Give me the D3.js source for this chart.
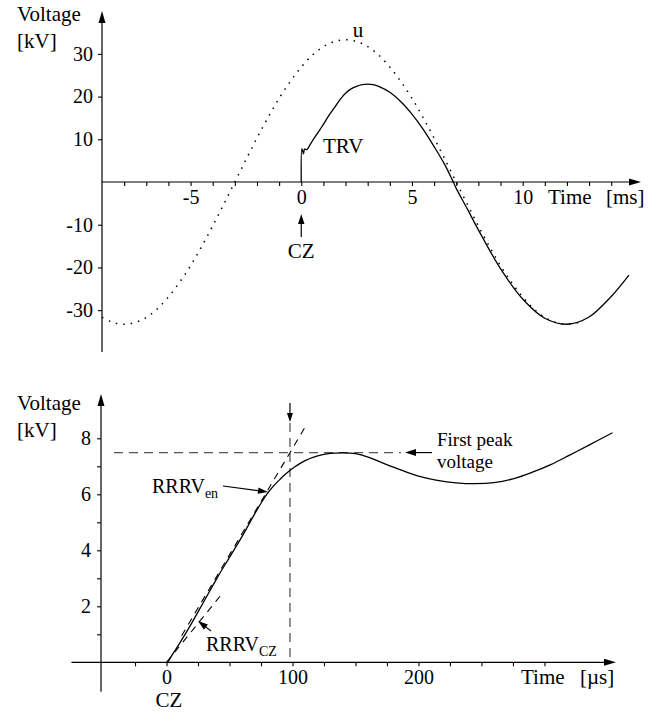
<!DOCTYPE html>
<html>
<head>
<meta charset="utf-8">
<script src="https://cdn.jsdelivr.net/npm/d3@7"></script>
<style>
  html, body { margin: 0; padding: 0; background: #fff; }
  svg text { font-family: "Liberation Serif", "Times New Roman", serif; fill: #000; }
</style>
</head>
<body>
<svg id="chart" width="666" height="713"></svg>
<script>
// ---------- Data (top chart: time in ms, voltage in kV) ----------
const uTime   = [-9,-8.5,-8,-7.5,-7,-6.5,-6,-5.5,-5,-4.5,-4,-3.5,-3,-2.5,-2,-1.5,-1,-0.5,0,0.5,1,1.5,2,2.5,3,3.5,4,4.5,5,5.5,6,6.5,7,7.5,8,8.5,9,9.5,10,10.5,11,11.5,12,12.5];
const uValues = [-31.7,-32.9,-33.3,-32.9,-31.7,-29.7,-26.9,-23.5,-19.6,-15.1,-10.3,-5.2,0,5.2,10.3,15.1,19.6,23.5,26.9,29.7,31.7,32.9,33.3,32.9,31.7,29.7,26.9,23.5,19.6,15.1,10.3,5.2,0,-5.2,-10.3,-15.1,-19.6,-23.5,-26.9,-29.7,-31.7,-32.9,-33.3,-32.9];

const trvTime   = [0,0.03,0.1,0.15,0.25,0.35,0.5,0.86,1.0,1.25,1.5,1.75,2.0,2.25,2.5,2.75,3.0,3.25,3.5,4.0,4.5,5.0,5.5,6.0,6.5,6.82,7.0,7.5,8,9,10,11,12,13,14,14.8];
const trvValues = [0,7.8,6.6,7.7,7.6,8.3,9.6,12.4,13.5,15.6,17.4,19.3,20.8,21.8,22.4,22.8,22.9,22.8,22.4,21.0,18.8,15.9,12.4,8.3,3.9,0.5,-1.5,-6.3,-11.2,-20.3,-27.4,-31.9,-33.3,-31.6,-26.8,-21.8];

const topXTicks  = [-8,-7,-6,-5,-4,-3,-2,-1,0,1,2,3,4,5,6,7,8,9,10,11,12,13,14];
const topXLabels = [-5,0,5,10];
const topYLabels = [-30,-20,-10,10,20,30];

// ---------- Data (bottom chart: time in µs, voltage in kV) ----------
const tTime   = [1,5,10,20,30,40,50,60,70,75,80,85,90,95,100,110,120,130,140,150,160,170,180,190,200,215,230,245,260,275,290,305,320,335,354];
const tValues = [0,0.3,0.65,1.4,2.2,3.0,3.75,4.5,5.3,5.68,6.02,6.3,6.53,6.74,6.92,7.2,7.37,7.46,7.48,7.45,7.33,7.15,6.97,6.8,6.65,6.5,6.41,6.38,6.42,6.55,6.78,7.06,7.4,7.75,8.2];

const botXTicks  = [-25,0,25,50,75,100,125,150,175,200,225,250,275,300];
const botXLabels = [0,100,200];
const botYTicks  = [1,2,3,4,5,6,7,8];
const botYLabels = [2,4,6,8];

const firstPeakVoltage = 7.49;
const peakTime = 98;
const rrrvEnTime = [12, 110], rrrvEnValues = [0.95, 8.4];
const rrrvCzTime = [0, 45],   rrrvCzValues = [0, 2.5];

// ---------- Drawing ----------
const svg = d3.select("#chart");
const FS = 20;   // tick labels
const LS = 21;   // other labels

function arrowHead(g, x, y, dir, len = 10, half = 3.5) {
  let pts;
  if (dir === 'up')    pts = [[x, y], [x - half, y + len], [x + half, y + len]];
  if (dir === 'down')  pts = [[x, y], [x - half, y - len], [x + half, y - len]];
  if (dir === 'right') pts = [[x, y], [x - len, y - half], [x - len, y + half]];
  if (dir === 'left')  pts = [[x, y], [x + len, y - half], [x + len, y + half]];
  g.append("path").attr("d", "M" + pts.map(p => p.join(",")).join("L") + "Z").attr("fill", "#000");
}
function arrowTo(g, x1, y1, x2, y2, len = 10, half = 3.5) {
  const a = Math.atan2(y2 - y1, x2 - x1);
  g.append("line").attr("x1", x1).attr("y1", y1)
    .attr("x2", x2 - Math.cos(a) * len * 0.8).attr("y2", y2 - Math.sin(a) * len * 0.8)
    .attr("stroke", "#000").attr("stroke-width", 1.2);
  const bx = x2 - Math.cos(a) * len, by = y2 - Math.sin(a) * len;
  const p1 = [bx + Math.sin(a) * half, by - Math.cos(a) * half];
  const p2 = [bx - Math.sin(a) * half, by + Math.cos(a) * half];
  g.append("path").attr("d", `M${x2},${y2}L${p1[0]},${p1[1]}L${p2[0]},${p2[1]}Z`).attr("fill", "#000");
}
function styleAxis(g) {
  g.select(".domain").remove();
  g.selectAll("line").attr("stroke", "#000").attr("stroke-width", 1.1);
  g.selectAll("text").attr("font-size", FS).attr("font-family", "Liberation Serif").attr("fill", "#000");
}

// ===== Top chart =====
const xT = d3.scaleLinear().domain([-9, 15.3]).range([102, 640]);
const yT = d3.scaleLinear().domain([-39.8, 39.8]).range([352, 12]);
const gT = svg.append("g");

const xAxT = d3.axisBottom(xT).tickValues(topXTicks).tickSize(4).tickPadding(4)
  .tickFormat(d => topXLabels.includes(d) ? String(d) : "");
gT.append("g").attr("transform", `translate(0,${yT(0)})`).call(xAxT).call(styleAxis);
gT.append("line").attr("x1", xT(-9)).attr("x2", 632).attr("y1", yT(0)).attr("y2", yT(0)).attr("stroke", "#000").attr("stroke-width", 1.2);
arrowHead(gT, 641, yT(0), 'right', 12, 3.5);

const yAxT = d3.axisLeft(yT).tickValues(topYLabels).tickSize(4).tickPadding(5).tickFormat(d => String(d));
gT.append("g").attr("transform", `translate(${xT(-9)},0)`).call(yAxT).call(styleAxis);
gT.append("line").attr("x1", xT(-9)).attr("x2", xT(-9)).attr("y1", 20).attr("y2", yT(-39.8)).attr("stroke", "#000").attr("stroke-width", 1.2);
arrowHead(gT, xT(-9), 11, 'up', 12, 3.5);

gT.append("text").attr("x", 17).attr("y", 21).attr("font-size", LS).text("Voltage");
gT.append("text").attr("x", 17).attr("y", 48).attr("font-size", LS).text("[kV]");
gT.append("text").attr("x", 548).attr("y", 204).attr("font-size", LS).text("Time");
gT.append("text").attr("x", 606).attr("y", 204).attr("font-size", LS).text("[ms]");

// curves
gT.append("path").datum(uTime.map((t, i) => [t, uValues[i]]))
  .attr("d", d3.line().x(d => xT(d[0])).y(d => yT(d[1])).curve(d3.curveCatmullRom))
  .attr("fill", "none").attr("stroke", "#000").attr("stroke-width", 1.5)
  .attr("stroke-dasharray", "1.5,6");
gT.append("path").datum(trvTime.map((t, i) => [t, trvValues[i]]))
  .attr("d", d3.line().x(d => xT(d[0])).y(d => yT(d[1])).curve(d3.curveCatmullRom.alpha(0.5)))
  .attr("fill", "none").attr("stroke", "#000").attr("stroke-width", 1.3);

gT.append("text").attr("x", 358).attr("y", 37).attr("text-anchor", "middle").attr("font-size", LS).text("u");
gT.append("text").attr("x", 323).attr("y", 153).attr("font-size", LS).text("TRV");

// CZ arrow
gT.append("line").attr("x1", xT(0)).attr("x2", xT(0)).attr("y1", 237).attr("y2", 222).attr("stroke", "#000").attr("stroke-width", 1.2);
arrowHead(gT, xT(0), 214, 'up', 10, 3.2);
gT.append("text").attr("x", xT(0)).attr("y", 258).attr("text-anchor", "middle").attr("font-size", LS).text("CZ");

// ===== Bottom chart =====
const xB = d3.scaleLinear().domain([-52, 356]).range([101, 615]);
const yB = d3.scaleLinear().domain([-1.05, 9.55]).range([691.7, 394.9]);
const gB = svg.append("g");

const xAxB = d3.axisBottom(xB).tickValues(botXTicks).tickSize(4).tickPadding(4)
  .tickFormat(d => botXLabels.includes(d) ? String(d) : "");
gB.append("g").attr("transform", `translate(0,${yB(0)})`).call(xAxB).call(styleAxis);
gB.append("line").attr("x1", xB(-75.5)).attr("x2", 607).attr("y1", yB(0)).attr("y2", yB(0)).attr("stroke", "#000").attr("stroke-width", 1.2);
arrowHead(gB, 616, yB(0), 'right', 12, 3.5);

const yAxB = d3.axisLeft(yB).tickValues(botYTicks).tickSize(4).tickPadding(6)
  .tickFormat(d => botYLabels.includes(d) ? String(d) : "");
gB.append("g").attr("transform", `translate(${xB(-52)},0)`).call(yAxB).call(styleAxis);
gB.append("line").attr("x1", xB(-52)).attr("x2", xB(-52)).attr("y1", 403).attr("y2", yB(-1.05)).attr("stroke", "#000").attr("stroke-width", 1.2);
arrowHead(gB, xB(-52), 394, 'up', 12, 3.5);

gB.append("text").attr("x", 17).attr("y", 410).attr("font-size", LS).text("Voltage");
gB.append("text").attr("x", 17).attr("y", 437).attr("font-size", LS).text("[kV]");
gB.append("text").attr("x", 521).attr("y", 684).attr("font-size", LS).text("Time");
gB.append("text").attr("x", 580).attr("y", 684).attr("font-size", LS).text("[µs]");
gB.append("text").attr("x", xB(2)).attr("y", 707).attr("text-anchor", "middle").attr("font-size", LS).text("CZ");

// dashed reference lines
const dashCol = "#555";
gB.append("line").attr("x1", 114).attr("x2", 401).attr("y1", yB(firstPeakVoltage)).attr("y2", yB(firstPeakVoltage))
  .attr("stroke", dashCol).attr("stroke-width", 1.3).attr("stroke-dasharray", "9,6");
gB.append("line").attr("x1", xB(peakTime)).attr("x2", xB(peakTime)).attr("y1", 423).attr("y2", yB(0))
  .attr("stroke", dashCol).attr("stroke-width", 1.3).attr("stroke-dasharray", "9,6");
gB.append("line").attr("x1", xB(peakTime)).attr("x2", xB(peakTime)).attr("y1", 403).attr("y2", 414).attr("stroke", "#000").attr("stroke-width", 1.2);
arrowHead(gB, xB(peakTime), 422, 'down', 9, 3);

// tangent lines
gB.append("line").attr("x1", xB(rrrvEnTime[0])).attr("y1", yB(rrrvEnValues[0]))
  .attr("x2", xB(rrrvEnTime[1])).attr("y2", yB(rrrvEnValues[1]))
  .attr("stroke", "#000").attr("stroke-width", 1.1).attr("stroke-dasharray", "7,6");
gB.append("line").attr("x1", xB(rrrvCzTime[0])).attr("y1", yB(rrrvCzValues[0]))
  .attr("x2", xB(rrrvCzTime[1])).attr("y2", yB(rrrvCzValues[1]))
  .attr("stroke", "#000").attr("stroke-width", 1.1).attr("stroke-dasharray", "7,6");

// TRV curve
gB.append("path").datum(tTime.map((t, i) => [t, tValues[i]]))
  .attr("d", d3.line().x(d => xB(d[0])).y(d => yB(d[1])).curve(d3.curveCatmullRom))
  .attr("fill", "none").attr("stroke", "#000").attr("stroke-width", 1.3);

// First peak annotation
arrowTo(gB, 432, yB(firstPeakVoltage), 405, yB(firstPeakVoltage), 11, 3.5);
gB.append("text").attr("x", 437).attr("y", 446).attr("font-size", 19).text("First peak");
gB.append("text").attr("x", 437).attr("y", 468).attr("font-size", 19).text("voltage");

// RRRV_en
const tEn = gB.append("text").attr("x", 152).attr("y", 493).attr("font-size", FS);
tEn.append("tspan").text("RRRV");
tEn.append("tspan").attr("font-size", 14).attr("dy", 5).text("en");
arrowTo(gB, 223, 486, 268, 492, 10, 3.2);

// RRRV_CZ
const tCz = gB.append("text").attr("x", 206).attr("y", 651).attr("font-size", FS);
tCz.append("tspan").text("RRRV");
tCz.append("tspan").attr("font-size", 14).attr("dy", 5).text("CZ");
arrowTo(gB, 211, 631, 198, 621, 10, 3.2);
</script>
</body>
</html>
